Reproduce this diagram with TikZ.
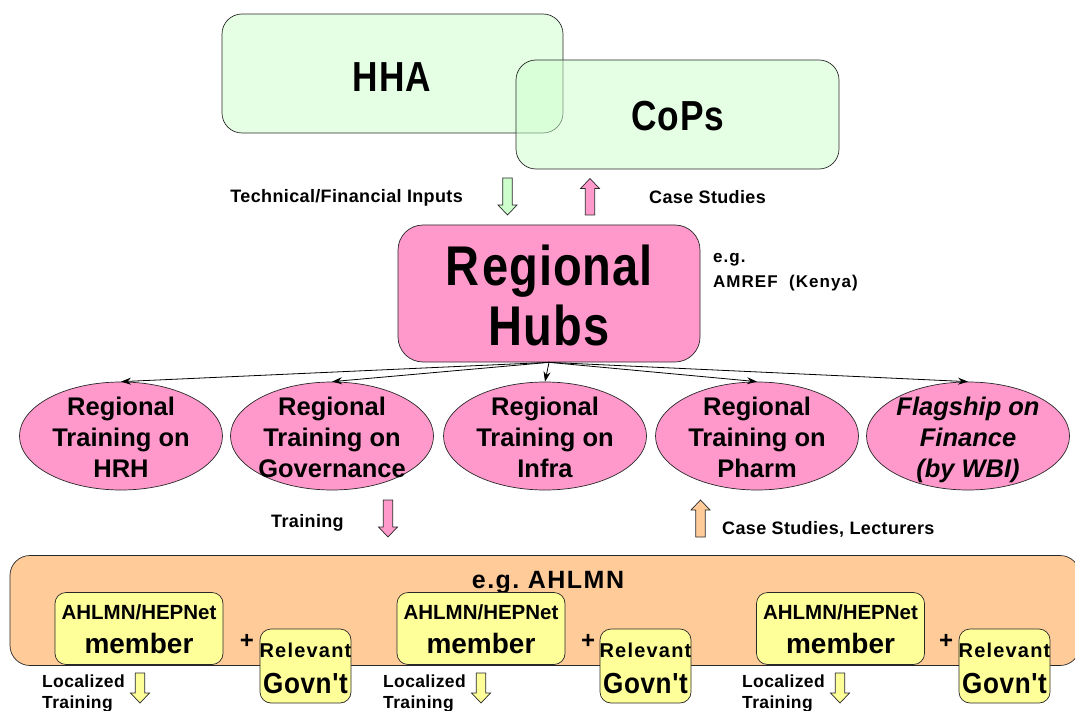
\documentclass[tikz,border=0pt]{standalone}
\usepackage{fontspec}
\setmainfont{Liberation Sans}
\newfontfamily\gothic[FakeStretch=0.84]{Liberation Sans}
\newfontfamily\gothicb[FakeStretch=0.9]{Liberation Sans}
\newfontfamily\lblfont[LetterSpace=2]{Liberation Sans}
\newfontfamily\widefont[LetterSpace=6]{Liberation Sans}
\usetikzlibrary{shapes.geometric,arrows.meta}
\definecolor{hgreen}{RGB}{204,255,204}
\definecolor{hpink}{RGB}{255,153,204}
\definecolor{horange}{RGB}{255,204,153}
\definecolor{hyellow}{RGB}{255,255,153}
\definecolor{hline}{RGB}{40,40,40}
\newcommand\barrowdown[5]{% name, x, ytop, ybot, colour
  \path[draw=hline, line width=0.7pt, fill=#5] (#2-4.7,#3) -- (#2+4.7,#3) -- (#2+4.7,#4-10) -- (#2+9.5,#4-10) -- (#2,#4) -- (#2-9.5,#4-10) -- (#2-4.7,#4-10) -- cycle;
  \coordinate (#1) at (#2,#4);}
\newcommand\barrowup[5]{% name, x, ytip, ybot, colour
  \path[draw=hline, line width=0.7pt, fill=#5] (#2-4.7,#4) -- (#2+4.7,#4) -- (#2+4.7,#3+10) -- (#2+9.5,#3+10) -- (#2,#3) -- (#2-9.5,#3+10) -- (#2-4.7,#3+10) -- cycle;
  \coordinate (#1) at (#2,#3);}
\begin{document}
\begin{tikzpicture}[x=1pt,y=-1pt,
  box/.style={draw=hline, line width=0.7pt, inner sep=0, rounded corners=#1},
  ell/.style={ellipse, draw=hline, line width=0.7pt, fill=hpink, minimum width=203pt, minimum height=108pt, inner sep=0},
  txt/.style={anchor=base, inner sep=0},
  lbl/.style={anchor=base west, inner sep=0, font=\lblfont\bfseries\fontsize{18}{18}\selectfont},
  elltxt/.style={txt, font=\bfseries\fontsize{25.5}{25.5}\selectfont},
  hubarrow/.style={-{Stealth[length=10pt,width=7pt]}, line width=0.8pt, draw=black}]
\useasboundingbox (0,0) rectangle (1075,711);

% top boxes
\node[box=20pt, fill=hgreen, fill opacity=0.5, minimum width=341pt, minimum height=119pt] (hha) at (392.5,73.5) {};
\node[box=20pt, fill=hgreen, fill opacity=0.5, minimum width=323pt, minimum height=109pt] (cops) at (677.5,114.5) {};
\node[txt, font=\gothic\bfseries\fontsize{42}{42}\selectfont] (hhat) at (392,92) {H\kern1pt H\kern1pt A};
\node[txt, font=\gothic\bfseries\fontsize{42}{42}\selectfont] (copst) at (678,131) {C\kern1pt o\kern1pt P\kern1pt s};

% arrows between top and hub
\barrowdown{ga}{507.5}{178}{215}{hgreen}
\barrowup{pa}{590}{178.5}{215}{hpink}
\node[anchor=base east, inner sep=0, font=\lblfont\bfseries\fontsize{18}{18}\selectfont] (techt) at (463,203) {Technical/Financial Inputs};
\node[lbl] (cst) at (649,204) {Case Studies};

% hub
\node[box=25pt, fill=hpink, minimum width=302pt, minimum height=137pt] (hub) at (549,293.5) {};
\node[txt, font=\gothic\bfseries\fontsize{56}{56}\selectfont] (hubt1) at (549,285) {R\kern3pt e\kern1pt g\kern1pt i\kern1pt o\kern1pt n\kern1pt a\kern1pt l};
\node[txt, font=\gothic\bfseries\fontsize{56}{56}\selectfont] (hubt2) at (549,345) {H\kern1pt u\kern1pt b\kern1pt s};
\node[lbl, font=\widefont\bfseries\fontsize{17}{17}\selectfont] (eg1) at (713,262) {e.g.};
\node[lbl, font=\widefont\bfseries\fontsize{17}{17}\selectfont] (eg2) at (713,287) {AMREF\ \ (Kenya)};

% ellipses
\node[ell] (e1) at (121,436) {};
\node[ell] (e2) at (332,436) {};
\node[ell] (e3) at (545,436) {};
\node[ell] (e4) at (757,436) {};
\node[ell] (e5) at (968,436) {};
\foreach \n/\x/\a/\b/\c in {1/121/Regional/Training on/HRH, 2/332/Regional/Training on/Governance, 3/545/Regional/Training on/Infra, 4/757/Regional/Training on/Pharm}{
  \node[elltxt] (e\n a) at (\x,415) {\a};
  \node[elltxt] (e\n b) at (\x,446) {\b};
  \node[elltxt] (e\n c) at (\x,477) {\c};
}
\node[elltxt, font=\bfseries\itshape\fontsize{25.5}{25.5}\selectfont] (e5a) at (968,415) {Flagship on};
\node[elltxt, font=\bfseries\itshape\fontsize{25.5}{25.5}\selectfont] (e5b) at (968,446) {Finance};
\node[elltxt, font=\bfseries\itshape\fontsize{25.5}{25.5}\selectfont] (e5c) at (968,477) {(by WBI)};

\foreach \n in {1,...,5}{ \draw[hubarrow] (hub.south) -- (e\n.north); }

% middle arrows
\barrowdown{ta}{388}{500}{537}{hpink}
\node[lbl] (trt) at (271,527) {Training};
\barrowup{oa}{700.5}{500}{537}{horange}
\node[lbl] (cslt) at (722,534) {Case Studies, Lecturers};

% bottom box
\node[box=20pt, fill=horange, minimum width=1070pt, minimum height=110pt] (net) at (545,610.5) {};
\node[txt, font=\widefont\bfseries\fontsize{25}{25}\selectfont] (nett) at (548,588) {e.g.\ AHLMN};

\foreach \n/\mx/\gx/\px/\lx in {1/139/305.5/247/42, 2/481/645.5/588/383, 3/840.5/1004.5/946/742}{
  \node[box=11pt, fill=hyellow, minimum width=168pt, minimum height=72pt] (m\n) at (\mx,628.5) {};
  \node[txt, font=\bfseries\fontsize{20.5}{20.5}\selectfont] (m\n a) at (\mx,619) {AHLMN/HEPNet};
  \node[txt, font=\bfseries\fontsize{28}{28}\selectfont] (m\n b) at (\mx,653) {member};
  \node[box=11pt, fill=hyellow, minimum width=91pt, minimum height=74pt] (g\n) at (\gx,666) {};
  \node[txt, font=\widefont\bfseries\fontsize{20}{20}\selectfont] (g\n a) at (\gx,657) {Relevant};
  \node[txt, font=\gothicb\bfseries\fontsize{29}{29}\selectfont] (g\n b) at (\gx,693) {G\kern0.6pt o\kern0.6pt v\kern0.6pt n\kern0.6pt '\kern0.6pt t};
  \node[inner sep=0, font=\bfseries\fontsize{24}{24}\selectfont] (p\n) at (\px,641) {+};
  \node[lbl, font=\lblfont\bfseries\fontsize{17.5}{17.5}\selectfont] (l\n a) at (\lx,687) {Localized};
  \node[lbl, font=\lblfont\bfseries\fontsize{17.5}{17.5}\selectfont] (l\n b) at (\lx,708) {Training};
}
\barrowdown{ya1}{140}{673}{703}{hyellow}
\barrowdown{ya2}{481}{673}{703}{hyellow}
\barrowdown{ya3}{840}{673}{703}{hyellow}
\end{tikzpicture}
\end{document}
